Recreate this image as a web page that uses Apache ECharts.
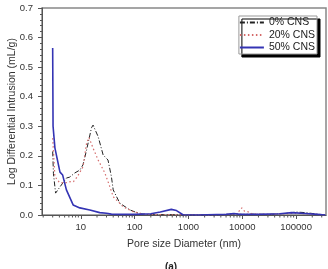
<!DOCTYPE html>
<html>
<head>
<meta charset="utf-8">
<script src="https://cdn.jsdelivr.net/npm/echarts@6/dist/echarts.min.js"></script>
<style>
  html, body { margin: 0; padding: 0; background: #fff; }
  #chart { width: 328px; height: 269px; }
</style>
</head>
<body>
<div id="chart"></div>
<script>
// pore size (nm) / log differential intrusion (mL/g)
var cns0X = [3.0, 3.1, 3.4, 4.1, 5.4, 6.2, 7.7, 9.6, 11, 12.8, 15.8, 16.9, 21, 26, 32, 37, 40, 53, 82, 125, 200, 500, 1000, 3000, 6000, 8000, 10000, 15000, 30000, 60000, 100000, 150000, 250000, 350000];
var cns0Y = [0.215, 0.14, 0.074, 0.095, 0.125, 0.128, 0.142, 0.152, 0.17, 0.22, 0.295, 0.304, 0.265, 0.203, 0.186, 0.13, 0.085, 0.04, 0.017, 0.004, 0.001, 0.001, 0.0, 0.0, 0.003, 0.004, 0.002, 0.003, 0.002, 0.005, 0.01, 0.008, 0.003, 0.0];

var cns20X = [3.0, 3.3, 4.0, 5.0, 6.5, 7.3, 8.5, 11, 12.8, 14.2, 16.9, 21, 28, 34.6, 40, 61, 94, 150, 300, 1000, 5000, 8000, 9800, 11000, 12800, 15000, 30000, 100000, 200000, 350000];
var cns20Y = [0.26, 0.13, 0.11, 0.108, 0.113, 0.113, 0.128, 0.163, 0.243, 0.262, 0.226, 0.186, 0.142, 0.096, 0.062, 0.028, 0.011, 0.003, 0.001, 0, 0.001, 0.005, 0.024, 0.013, 0.011, 0.004, 0.002, 0.006, 0.003, 0];

var cns50X = [3.0, 3.05, 3.3, 4.1, 4.6, 5.4, 7.2, 9.6, 14.7, 22.5, 30, 37, 50, 100, 200, 300, 480, 600, 790, 1500, 5000, 7000, 9000, 20000, 50000, 83000, 150000, 250000, 350000];
var cns50Y = [0.565, 0.3, 0.227, 0.145, 0.135, 0.085, 0.034, 0.024, 0.017, 0.008, 0.006, 0.003, 0.002, 0.002, 0.004, 0.01, 0.019, 0.015, 0.001, 0, 0.002, 0.005, 0.002, 0.002, 0.004, 0.008, 0.005, 0.002, 0];

var seriesNames = ['0% CNS', '20% CNS', '50% CNS'];
var yTicks = [0, 0.7, 0.1];

// minor ticks of the log axis (2..9 x each decade)
var minorTickVals = [];
for (var e = 0; e <= 5; e++) {
  for (var m = 2; m <= 9; m++) {
    var v = m * Math.pow(10, e);
    if (v > 1.9 && v < 360000) minorTickVals.push([v, 0]);
  }
}

function pairs(xs, ys) {
  return xs.map(function (x, i) { return [x, ys[i]]; });
}

var chart = echarts.init(document.getElementById('chart'), null, { renderer: 'canvas' });
var txt = '#333';
var option = {
  animation: false,
  textStyle: { fontFamily: 'Liberation Sans, Arial, sans-serif' },
  title: {
    text: '(a)',
    left: 166,
    top: 257,
    textAlign: 'center',
    textStyle: { fontSize: 10, fontWeight: 'bold', color: '#222' }
  },
  grid: {
    left: 42, right: 2, top: 8, bottom: 54,
    outerBoundsMode: 'none',
    containLabel: false,
    show: true, borderColor: '#888', borderWidth: 1.5
  },
  legend: {
    data: seriesNames.map(function (n) {
      return { name: n, itemStyle: { opacity: 0 } };
    }),
    orient: 'vertical',
    right: 11,
    top: 16,
    itemWidth: 24,
    itemHeight: 10,
    itemGap: 1.5,
    padding: [1, 2, 1, 0],
    backgroundColor: '#fff',
    borderColor: '#999',
    borderWidth: 1,
    shadowColor: '#000',
    shadowBlur: 0,
    shadowOffsetX: 3,
    shadowOffsetY: 3,
    textStyle: { fontSize: 10.5, color: '#222', width: 40, align: 'right' }
  },
  xAxis: {
    type: 'log',
    logBase: 10,
    min: 1.9,
    max: 360000,
    name: 'Pore size Diameter (nm)',
    nameLocation: 'middle',
    nameGap: 24,
    nameMoveOverlap: false,
    nameTextStyle: { fontSize: 10.5, color: txt },
    axisLine: { lineStyle: { color: '#555', width: 1 } },
    axisTick: { inside: false, length: 4, lineStyle: { color: '#555' } },
    axisLabel: {
      fontSize: 9.5, color: txt, margin: 7,
      showMinLabel: false, showMaxLabel: false,
      formatter: function (v) { return String(Math.round(v)); }
    },
    splitLine: { show: false }
  },
  yAxis: {
    type: 'value',
    min: yTicks[0],
    max: yTicks[1],
    interval: yTicks[2],
    name: 'Log Differential Intrusion (mL/g)',
    nameLocation: 'middle',
    nameGap: 24,
    nameMoveOverlap: false,
    nameTextStyle: { fontSize: 10.5, color: txt },
    axisLine: { show: true, lineStyle: { color: '#555', width: 1 } },
    axisTick: { show: true, length: 4, lineStyle: { color: '#555' } },
    minorTick: { show: true, splitNumber: 5, length: 2, lineStyle: { color: '#555' } },
    axisLabel: {
      fontSize: 9.5, color: txt, margin: 9,
      formatter: function (v) { return v.toFixed(1); }
    },
    splitLine: { show: false }
  },
  series: [
    {
      name: seriesNames[0],
      type: 'line',
      data: pairs(cns0X, cns0Y),
      symbol: 'none',
      lineStyle: { color: '#222', width: 1, type: [5, 2, 1, 2] },
      itemStyle: { color: '#222' }
    },
    {
      name: seriesNames[1],
      type: 'line',
      data: pairs(cns20X, cns20Y),
      symbol: 'none',
      lineStyle: { color: '#d46a6a', width: 1.2, type: [1.5, 2.5] },
      itemStyle: { color: '#d46a6a' }
    },
    {
      name: seriesNames[2],
      type: 'line',
      data: pairs(cns50X, cns50Y),
      symbol: 'none',
      z: 3,
      lineStyle: { color: '#3434b4', width: 1.6 },
      itemStyle: { color: '#3434b4' }
    },
    {
      type: 'custom',
      silent: true,
      clip: false,
      data: minorTickVals,
      renderItem: function (params, api) {
        var p = api.coord([api.value(0), 0]);
        return {
          type: 'line',
          shape: { x1: p[0], y1: p[1], x2: p[0], y2: p[1] + 2.5 },
          style: { stroke: '#555', lineWidth: 1 }
        };
      }
    }
  ]
};
chart.setOption(option);
</script>
</body>
</html>
